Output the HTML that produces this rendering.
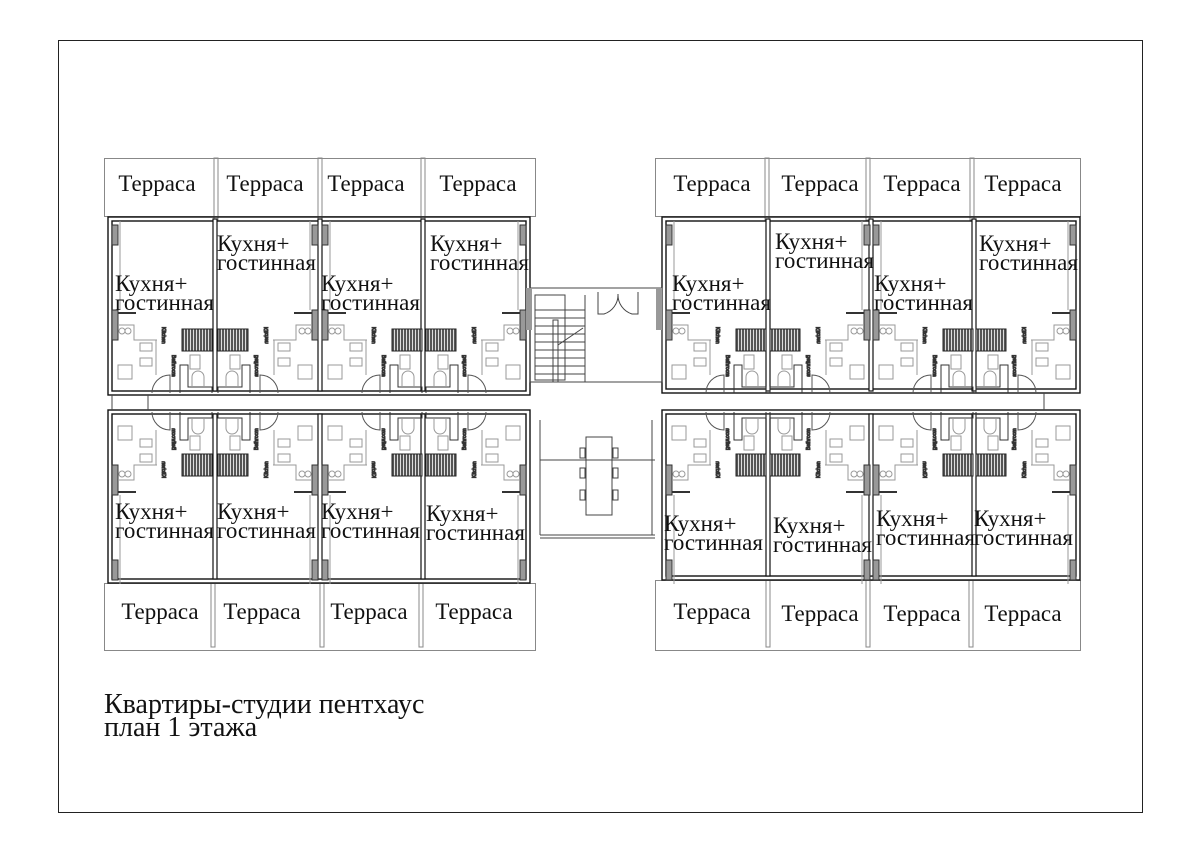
<!DOCTYPE html>
<html><head><meta charset="utf-8"><style>
html,body{margin:0;padding:0;background:#fff}
svg{display:block}
text{font-family:"Liberation Serif",serif;fill:#111}
.t{font-size:23px}
.l{font-size:23px}
</style></head><body>
<svg width="1200" height="841" viewBox="0 0 1200 841" xmlns="http://www.w3.org/2000/svg">
<defs>
<pattern id="h" width="3" height="3" patternUnits="userSpaceOnUse"><rect width="3" height="3" fill="#555"/><rect width="1" height="3" fill="#ddd"/></pattern>
<g id="u" fill="none" stroke="#333" stroke-width="1">
  <line x1="8" y1="6" x2="8" y2="95" stroke="#999"/>
  <rect x="0" y="10" width="6" height="20" fill="#999"/>
  <rect x="0" y="95" width="6" height="30" fill="#999"/>
  <line x1="6" y1="98" x2="24" y2="98" stroke-width="2"/>
  <polyline points="6,110 22,110 22,125 45,125" stroke="#999"/>
  <circle cx="10" cy="116" r="3" stroke="#999"/><circle cx="16" cy="116" r="3" stroke="#999"/>
  <rect x="6" y="150" width="14" height="14" stroke="#999"/>
  <rect x="28" y="128" width="12" height="8" stroke="#999"/>
  <rect x="28" y="143" width="12" height="8" stroke="#999"/>
  <line x1="44" y1="125" x2="44" y2="160" stroke="#999"/>
  <rect x="70" y="114" width="30" height="22" fill="url(#h)" stroke="#222"/>
  <polyline points="68,178 68,150 76,150 76,172 100,172 100,178" stroke="#333"/>
  <rect x="78" y="140" width="10" height="14" stroke="#999"/>
  <path d="M80,172 v-10 a6,6 0 0 1 12,0 v10" stroke="#999"/>
  <path d="M40,178 a18,18 0 0 1 18,-18 v18" stroke="#555"/>
  <text x="60" y="140" font-size="5" transform="rotate(90 60 140)" style="font-family:'Liberation Sans',sans-serif">Bathroom</text>
  <text x="50" y="112" font-size="5" transform="rotate(90 50 112)" style="font-family:'Liberation Sans',sans-serif">Kitchen</text>
</g>
</defs>
<rect x="58.5" y="40.5" width="1084" height="772" fill="none" stroke="#222" stroke-width="1"/>

<g fill="none" stroke="#888" stroke-width="1">
<rect x="104.5" y="158.5" width="431" height="58"/>
<rect x="655.5" y="158.5" width="425" height="58"/>
<rect x="104.5" y="583.5" width="431" height="67"/>
<rect x="655.5" y="580.5" width="425" height="70"/>
<rect x="214" y="158" width="4" height="62"/><rect x="318" y="158" width="4" height="62"/><rect x="421" y="158" width="4" height="62"/>
<rect x="765" y="158" width="4" height="62"/><rect x="866" y="158" width="4" height="62"/><rect x="970" y="158" width="4" height="62"/>
<rect x="211" y="583" width="4" height="64"/><rect x="320" y="583" width="4" height="64"/><rect x="419" y="583" width="4" height="64"/>
<rect x="766" y="580" width="4" height="67"/><rect x="866" y="580" width="4" height="67"/><rect x="969" y="580" width="4" height="67"/>
</g>

<g fill="none" stroke="#111" stroke-width="1.4">
<rect x="108" y="217" width="422" height="178"/><rect x="112" y="221" width="414" height="170"/>
<rect x="662" y="217" width="418" height="176"/><rect x="666" y="221" width="410" height="168"/>
<rect x="108" y="410" width="422" height="173"/><rect x="112" y="414" width="414" height="165"/>
<rect x="662" y="410" width="418" height="170"/><rect x="666" y="414" width="410" height="162"/>
</g>
<g fill="#fff" stroke="#111" stroke-width="1.2">
<rect x="213" y="219" width="4" height="172"/><rect x="318" y="219" width="4" height="172"/><rect x="421" y="219" width="4" height="172"/>
<rect x="766" y="219" width="4" height="172"/><rect x="869" y="219" width="4" height="172"/><rect x="972" y="219" width="4" height="172"/>
<rect x="213" y="414" width="4" height="165"/><rect x="318" y="414" width="4" height="165"/><rect x="421" y="414" width="4" height="165"/>
<rect x="766" y="414" width="4" height="162"/><rect x="869" y="414" width="4" height="162"/><rect x="972" y="414" width="4" height="162"/>
</g>

<use href="#u" transform="translate(112,215)"/>
<use href="#u" transform="translate(318,215) scale(-1,1)"/>
<use href="#u" transform="translate(322,215)"/>
<use href="#u" transform="translate(526,215) scale(-1,1)"/>
<use href="#u" transform="translate(666,215)"/>
<use href="#u" transform="translate(870,215) scale(-1,1)"/>
<use href="#u" transform="translate(873,215)"/>
<use href="#u" transform="translate(1076,215) scale(-1,1)"/>
<use href="#u" transform="translate(112,590) scale(1,-1)"/>
<use href="#u" transform="translate(318,590) scale(-1,-1)"/>
<use href="#u" transform="translate(322,590) scale(1,-1)"/>
<use href="#u" transform="translate(526,590) scale(-1,-1)"/>
<use href="#u" transform="translate(666,590) scale(1,-1)"/>
<use href="#u" transform="translate(870,590) scale(-1,-1)"/>
<use href="#u" transform="translate(873,590) scale(1,-1)"/>
<use href="#u" transform="translate(1076,590) scale(-1,-1)"/>

<g fill="none" stroke="#444" stroke-width="1">
<rect x="530" y="288" width="132" height="94"/>
<rect x="535" y="295" width="30" height="85"/>
<line x1="535" y1="310" x2="585" y2="310"/><line x1="535" y1="318" x2="585" y2="318"/><line x1="535" y1="326" x2="585" y2="326"/><line x1="535" y1="334" x2="585" y2="334"/><line x1="535" y1="342" x2="585" y2="342"/><line x1="535" y1="350" x2="585" y2="350"/><line x1="535" y1="358" x2="585" y2="358"/><line x1="535" y1="366" x2="585" y2="366"/><line x1="535" y1="374" x2="585" y2="374"/>
<rect x="553" y="320" width="5" height="62"/>
<line x1="585" y1="295" x2="585" y2="382"/>
<line x1="558" y1="345" x2="583" y2="328"/>
<path d="M598,292 v22 h6 a20,20 0 0 0 14,-20 M638,292 v22 h-6 a20,20 0 0 1 -14,-20"/>
<line x1="540" y1="460" x2="655" y2="460"/><line x1="540" y1="535" x2="655" y2="535"/><line x1="540" y1="538" x2="655" y2="538"/>
<line x1="540" y1="420" x2="540" y2="535"/><line x1="652" y1="420" x2="652" y2="535"/>
<rect x="586" y="437" width="26" height="78"/>
<rect x="580" y="448" width="5" height="10"/><rect x="613" y="448" width="5" height="10"/>
<rect x="580" y="468" width="5" height="10"/><rect x="613" y="468" width="5" height="10"/>
<rect x="580" y="490" width="5" height="10"/><rect x="613" y="490" width="5" height="10"/>
<line x1="112" y1="395" x2="112" y2="410"/><line x1="148" y1="395" x2="148" y2="410"/>
<line x1="1044" y1="393" x2="1044" y2="410"/>
</g>
<rect x="526" y="288" width="6" height="42" fill="#999"/><rect x="656" y="288" width="6" height="42" fill="#999"/>

<g class="t" text-anchor="middle">
<text x="157" y="191">Терраса</text><text x="265" y="191">Терраса</text><text x="366" y="191">Терраса</text><text x="478" y="191">Терраса</text>
<text x="712" y="191">Терраса</text><text x="820" y="191">Терраса</text><text x="922" y="191">Терраса</text><text x="1023" y="191">Терраса</text>
<text x="160" y="619">Терраса</text><text x="262" y="619">Терраса</text><text x="369" y="619">Терраса</text><text x="474" y="619">Терраса</text>
<text x="712" y="619">Терраса</text><text x="820" y="621">Терраса</text><text x="922" y="621">Терраса</text><text x="1023" y="621">Терраса</text>
</g>
<g class="l">
<text x="115" y="291">Кухня+</text><text x="115" y="310">гостинная</text>
<text x="217" y="251">Кухня+</text><text x="217" y="270">гостинная</text>
<text x="321" y="291">Кухня+</text><text x="321" y="310">гостинная</text>
<text x="430" y="251">Кухня+</text><text x="430" y="270">гостинная</text>
<text x="672" y="291">Кухня+</text><text x="672" y="310">гостинная</text>
<text x="775" y="249">Кухня+</text><text x="775" y="268">гостинная</text>
<text x="874" y="291">Кухня+</text><text x="874" y="310">гостинная</text>
<text x="979" y="251">Кухня+</text><text x="979" y="270">гостинная</text>
<text x="115" y="519">Кухня+</text><text x="115" y="538">гостинная</text>
<text x="217" y="519">Кухня+</text><text x="217" y="538">гостинная</text>
<text x="321" y="519">Кухня+</text><text x="321" y="538">гостинная</text>
<text x="426" y="521">Кухня+</text><text x="426" y="540">гостинная</text>
<text x="664" y="531">Кухня+</text><text x="664" y="550">гостинная</text>
<text x="773" y="533">Кухня+</text><text x="773" y="552">гостинная</text>
<text x="876" y="526">Кухня+</text><text x="876" y="545">гостинная</text>
<text x="974" y="526">Кухня+</text><text x="974" y="545">гостинная</text>
</g>
<text x="104" y="713" font-size="28">Квартиры-студии пентхаус</text>
<text x="104" y="736" font-size="28">план 1 этажа</text>
</svg>
</body></html>
